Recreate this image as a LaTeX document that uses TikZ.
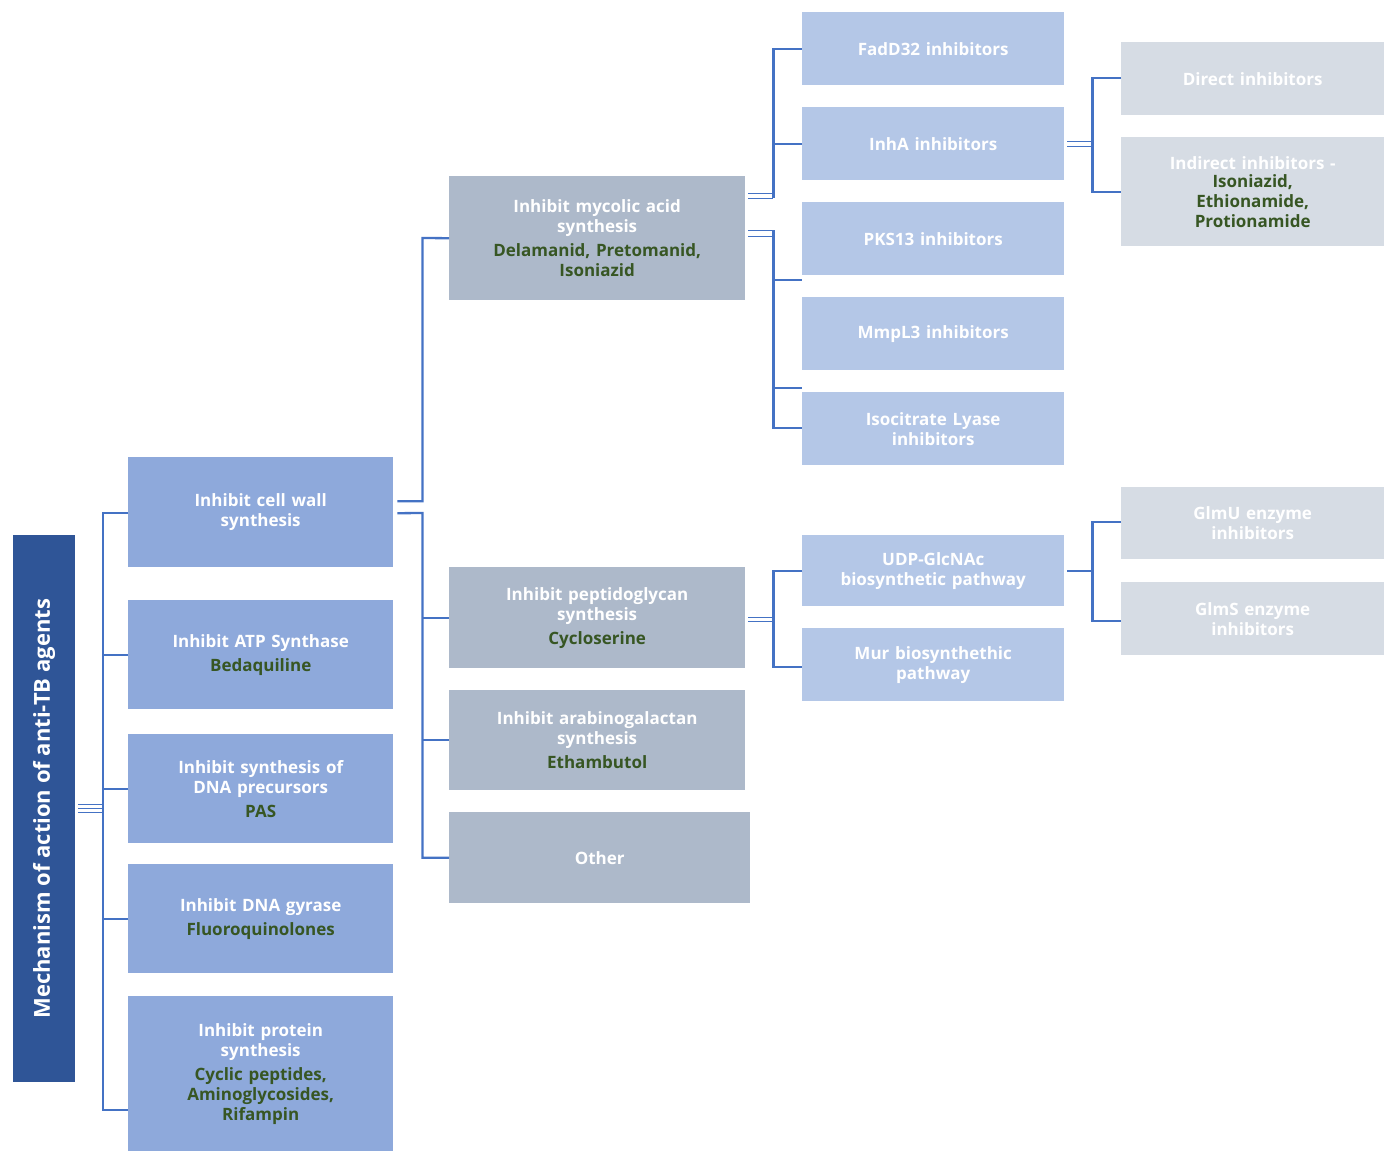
\documentclass[tikz,border=0pt]{standalone}
\usepackage{fontspec}
\setmainfont{Open Sans}
\usetikzlibrary{calc}
\definecolor{rootc}{HTML}{2F5597}
\definecolor{lone}{HTML}{8EA9DB}
\definecolor{ltwo}{HTML}{ADB9CA}
\definecolor{lthree}{HTML}{B4C7E7}
\definecolor{lfour}{HTML}{D6DCE4}
\definecolor{drug}{HTML}{375623}
\definecolor{linec}{HTML}{4472C4}
\newcommand{\bx}[7]{\node[#6, anchor=north west, minimum width={#4-#2}, minimum height={#5-#3}, text width={#4-#2-8}] (#1) at (#2,#3) {#7};}
\newcommand{\dg}[1]{\\[4pt]\textcolor{drug}{#1}}
\begin{document}
\begin{tikzpicture}[x=1pt,y=-1pt,
  every node/.style={inner sep=0pt, align=center, font=\bfseries\fontsize{17}{20}\selectfont, text=white},
  one/.style={fill=lone}, two/.style={fill=ltwo}, three/.style={fill=lthree}, four/.style={fill=lfour},
  ln/.style={draw=linec, line width=2.3pt}]
\useasboundingbox (0,0) rectangle (1397,1162);
\node[fill=rootc, anchor=north west, minimum width=62, minimum height=547] (root) at (13,535) {};
\node[rotate=90, font=\bfseries\fontsize{22}{26}\selectfont] at (root.center) {Mechanism of action of anti-TB agents};
\bx{cw}{128}{457}{393}{567}{one}{Inhibit cell wall\\synthesis}
\bx{atp}{128}{600}{393}{709}{one}{Inhibit ATP Synthase\dg{Bedaquiline}}
\bx{dna}{128}{734}{393}{843}{one}{Inhibit synthesis of\\DNA precursors\dg{PAS}}
\bx{gyr}{128}{864}{393}{973}{one}{Inhibit DNA gyrase\dg{Fluoroquinolones}}
\bx{prot}{128}{996}{393}{1151}{one}{Inhibit protein\\synthesis\dg{Cyclic peptides,\\Aminoglycosides,\\Rifampin}}
\bx{myc}{449}{176}{745}{300}{two}{Inhibit mycolic acid\\synthesis\dg{Delamanid, Pretomanid,\\Isoniazid}}
\bx{pep}{449}{567}{745}{668}{two}{Inhibit peptidoglycan\\synthesis\dg{Cycloserine}}
\bx{ara}{449}{690}{745}{790}{two}{Inhibit arabinogalactan\\synthesis\dg{Ethambutol}}
\bx{oth}{449}{812}{750}{903}{two}{Other}
\bx{fad}{802}{12}{1064}{85}{three}{FadD32 inhibitors}
\bx{inha}{802}{107}{1064}{180}{three}{InhA inhibitors}
\bx{pks}{802}{202}{1064}{275}{three}{PKS13 inhibitors}
\bx{mmp}{802}{297}{1064}{370}{three}{MmpL3 inhibitors}
\bx{icl}{802}{392}{1064}{465}{three}{Isocitrate Lyase\\inhibitors}
\bx{udp}{802}{535}{1064}{606}{three}{UDP-GlcNAc\\biosynthetic pathway}
\bx{mur}{802}{628}{1064}{701}{three}{Mur biosynthethic\\pathway}
\bx{dir}{1121}{42}{1384}{115}{four}{Direct inhibitors}
\bx{ind}{1121}{137}{1384}{246}{four}{Indirect inhibitors -\\[-2pt]\textcolor{drug}{Isoniazid,\\Ethionamide,\\Protionamide}}
\bx{glmu}{1121}{487}{1384}{559}{four}{GlmU enzyme\\inhibitors}
\bx{glms}{1121}{582}{1384}{655}{four}{GlmS enzyme\\inhibitors}
% root bracket
\coordinate (rb) at ($(root.east)+(0,0)$);
\draw[ln,line width=1.2pt] ($(root.east)+(3,-4)$) -- ++(25,0) ($(root.east)+(3,0)$) -- ++(25,0) ($(root.east)+(3,4)$) -- ++(25,0);
\draw[ln] (cw.west|-0,513) -- ++(-25,0) coordinate (t) -- (t|-0,1110) -- (prot.west|-0,1110);
\foreach \n in {atp,dna,gyr}{\draw[ln] (\n.west) -- (t|-\n.west);}
\draw[ln] (t|-0,798) -- ++(0,0);
% cell wall
\draw[ln] ($(cw.east)+(4,-11)$) -- ++(25,0) coordinate (u) -- (u|-0,238) -- (myc.west);
\draw[ln] ($(cw.east)+(4,1)$) -- (u|-0,513) -- (u|-oth.west) -- (oth.west);
\draw[ln] (pep.west) -- (u|-pep.west);
\draw[ln] (ara.west) -- (u|-ara.west);
% mycolic
\draw[ln,line width=1.2pt] ($(myc.east)+(3,-45)$) -- ++(25,0) ($(myc.east)+(3,-40)$) -- ++(25,0) coordinate (v);
\draw[ln] (v) -- (v|-fad.west) -- (fad.west);
\draw[ln] (inha.west) -- (v|-inha.west);
\draw[ln,line width=1.2pt] ($(myc.east)+(3,-8)$) -- ++(25,0) ($(myc.east)+(3,-2)$) -- ++(25,0) coordinate (w);
\draw[ln] ($(w)+(0,-6)$) -- (w|-0,428) -- (icl.west|-0,428);
\draw[ln] (w|-0,280) -- (pks.west|-0,280);
\draw[ln] (w|-0,388) -- (mmp.west|-0,388);
% InhA
\draw[ln,line width=1.2pt] ($(inha.east)+(3,-2)$) -- ++(25,0) ($(inha.east)+(3,3)$) -- ++(25,0) coordinate (z);
\draw[ln] (dir.west|-0,78) -- (z|-0,78) -- (z|-0,192) -- (ind.west|-0,192);
% peptidoglycan
\draw[ln,line width=1.2pt] ($(pep.east)+(3,0)$) -- ++(25,0) ($(pep.east)+(3,4)$) -- ++(25,0) coordinate (p);
\draw[ln] (udp.west|-0,571) -- (p|-0,571) -- (p|-0,667) -- (mur.west|-0,667);
% udp
\draw[ln] ($(udp.east)+(3,0)$) -- ++(25,0) coordinate (q);
\draw[ln] (glmu.west|-0,522) -- (q|-0,522) -- (q|-0,621) -- (glms.west|-0,621);
\end{tikzpicture}
\end{document}
